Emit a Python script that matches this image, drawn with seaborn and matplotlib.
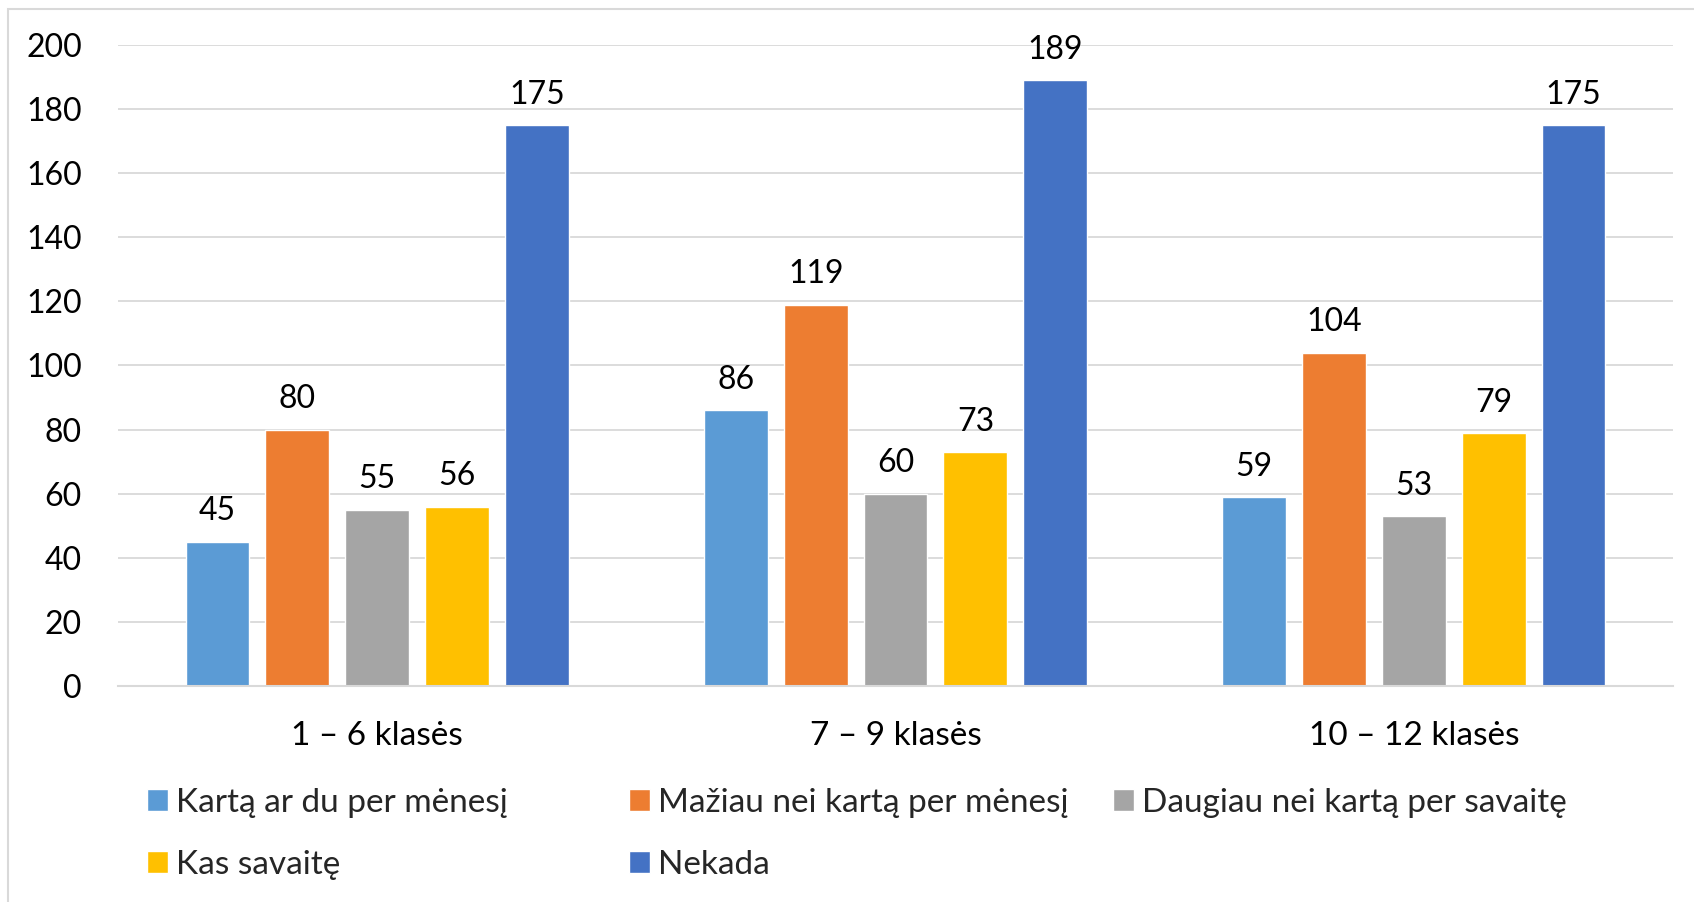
import matplotlib
matplotlib.use("Agg")
import matplotlib.pyplot as plt
import matplotlib.patches as mpatches
import pandas as pd
import seaborn as sns

# Chart data
categories = ["1 – 6 klasės", "7 – 9 klasės", "10 – 12 klasės"]
series = [
    "Kartą ar du per mėnesį",
    "Mažiau nei kartą per mėnesį",
    "Daugiau nei kartą per savaitę",
    "Kas savaitę",
    "Nekada",
]
values = {
    "Kartą ar du per mėnesį": [45, 86, 59],
    "Mažiau nei kartą per mėnesį": [80, 119, 104],
    "Daugiau nei kartą per savaitę": [55, 60, 53],
    "Kas savaitę": [56, 73, 79],
    "Nekada": [175, 189, 175],
}
colors = ["#5B9BD5", "#ED7D31", "#A5A5A5", "#FFC000", "#4472C4"]
y_ticks = [0, 20, 40, 60, 80, 100, 120, 140, 160, 180, 200]

rows = []
for s in series:
    for c, v in zip(categories, values[s]):
        rows.append({"klase": c, "serija": s, "reiksme": v})
df = pd.DataFrame(rows)

sns.set_theme(style="white")
plt.rcParams["font.family"] = ["Lato", "DejaVu Sans"]

W, H = 1694, 902
fig = plt.figure(figsize=(W / 100, H / 100), dpi=100)
ax = fig.add_axes([118 / W, 1 - 686 / H, (1673 - 118) / W, (686 - 45) / H])

sns.barplot(data=df, x="klase", y="reiksme", hue="serija", order=categories,
            hue_order=series, palette=colors, width=0.77, gap=0.2,
            saturation=1, ax=ax)

grid_col = "#D9D9D9"
ax.set_ylim(0, 200)
ax.set_yticks(y_ticks)
ax.set_xlim(-0.5, 2.5)
ax.yaxis.grid(True, color=grid_col, linewidth=1.3)
ax.set_axisbelow(True)
for side in ["left", "right", "top"]:
    ax.spines[side].set_visible(False)
ax.spines["bottom"].set_color(grid_col)
ax.spines["bottom"].set_linewidth(1.5)
ax.set_xlabel("")
ax.set_ylabel("")
ax.tick_params(axis="y", length=0, pad=26, labelsize=23, labelcolor="black")
ax.tick_params(axis="x", length=0, pad=25, labelsize=24, labelcolor="black")

for cont in ax.containers:
    ax.bar_label(cont, padding=11, fontsize=23, color="black")

handles, labels = ax.get_legend_handles_labels()
ax.get_legend().remove()

# Excel-style legend with equal column widths
col_x = [147 / W, 629 / W, 1113 / W]
col_items = [[0, 3], [1, 4], [2]]
for x, idx in zip(col_x, col_items):
    leg = fig.legend([handles[i] for i in idx], [labels[i] for i in idx],
                     loc="upper left", bbox_to_anchor=(x, 1 - 788 / H),
                     frameon=False, fontsize=24, borderpad=0,
                     borderaxespad=0, handlelength=0.63, handleheight=0.63,
                     handletextpad=0.25, labelspacing=0.95)

# outer chart border
fig.patches.append(mpatches.Rectangle((8 / W, -0.1), 1.2, 1.1 - 9 / H,
                                      transform=fig.transFigure, fill=False,
                                      edgecolor=grid_col, linewidth=1.5))

fig.savefig("out.png", dpi=100, facecolor="white")
